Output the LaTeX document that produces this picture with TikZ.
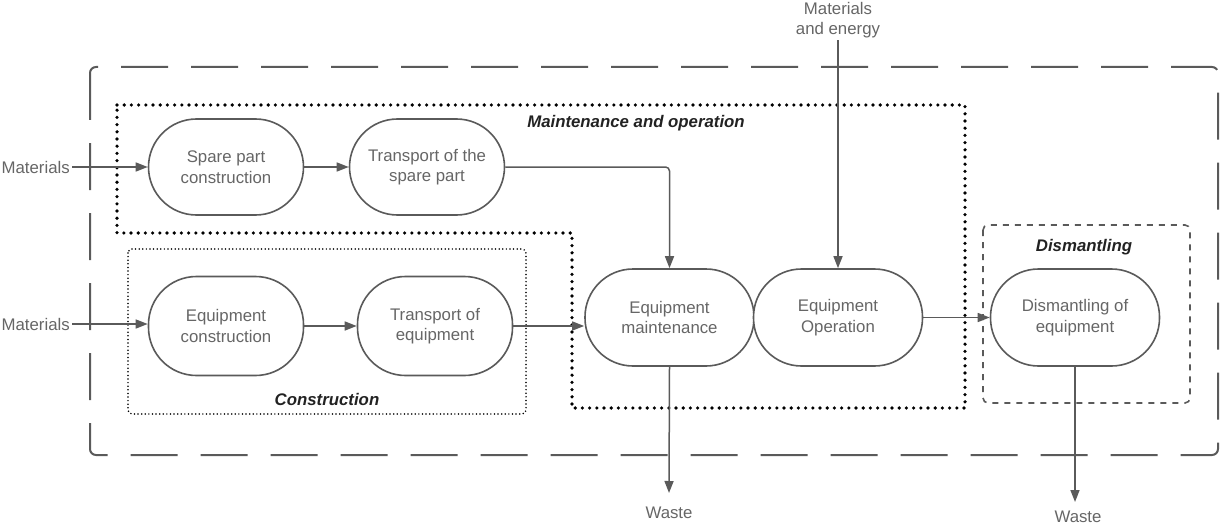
\documentclass[tikz,border=0pt]{standalone}
\usepackage{fontspec}
\setmainfont{Liberation Sans}
\usetikzlibrary{arrows.meta}
\definecolor{ln}{HTML}{5A5A5A}
\definecolor{tx}{HTML}{666666}
\definecolor{tt}{HTML}{222222}
\begin{document}
\begin{tikzpicture}[x=1pt,y=-1pt,
  proc/.style={draw=ln, line width=1.6pt, fill=white, rounded corners=48pt,
    minimum width=#1, minimum height=97pt, text=tx, align=center,
    font=\fontsize{16.8}{20.5}\selectfont, inner sep=0pt},
  proc/.default=155pt,
  lab/.style={text=tx, align=center, font=\fontsize{16.8}{20.5}\selectfont, inner sep=2pt},
  ttl/.style={text=tt, font=\fontsize{16.8}{19}\selectfont\bfseries\itshape, inner sep=0pt},
  arr/.style={draw=ln, line width=1.5pt, -{Triangle[length=12pt,width=9pt]}},
  outerbox/.style={draw=ln, line width=2pt, dash pattern=on 47pt off 23pt, rounded corners=6pt},
  mobox/.style={draw=black, line width=3.6pt, line cap=round, dash pattern=on 0pt off 7.2pt},
  conbox/.style={draw=black, line width=1.7pt, line cap=round, dash pattern=on 0pt off 3.6pt, rounded corners=4pt},
  disbox/.style={draw=ln, line width=1.6pt, dash pattern=on 6pt off 6pt, rounded corners=5pt}]
\useasboundingbox (0,0) rectangle (1220,524);

% group boxes
\draw[outerbox] (90,67) rectangle (1218,455);
\draw[mobox] (117,105) -- (965,105) -- (965,408) -- (572,408) -- (572,233) -- (117,233) -- cycle;
\draw[conbox] (128,249) rectangle (526,414);
\draw[disbox] (983,225) rectangle (1190,403);

% titles
\node[ttl] (tmo) at (636,123) {Maintenance and operation};
\node[ttl] (tcon) at (327,399) {Construction};
\node[ttl] (tdis) at (1084,247) {Dismantling};

% process nodes
\node[proc, minimum height=96pt] (sp) at (226,167) {Spare part\\construction};
\node[proc, minimum height=96pt] (ts) at (427,167) {Transport of the\\spare part};
\node[proc, minimum height=99pt] (ec) at (226,326) {Equipment\\construction};
\node[proc, minimum height=99pt] (te) at (435,326) {Transport of\\equipment};
\node[proc=169pt] (em) at (669.5,317.5) {Equipment\\maintenance};
\node[proc=169pt] (eo) at (838,317.5) {Equipment\\Operation};
\node[proc=169pt] (de) at (1075,317.5) {Dismantling of\\equipment};

% external labels
\node[lab, anchor=east] (m1) at (72,167) {Materials};
\node[lab, anchor=east] (m2) at (72,324) {Materials};
\node[lab] (me) at (838,20) {Materials\\and energy};
\node[lab] (w1) at (669,513) {Waste};
\node[lab] (w2) at (1078,517) {Waste};
\coordinate (w1t) at (669,493);
\coordinate (w2t) at (1075,502);

% connectors
\draw[arr] (m1.east) -- (sp.west);
\draw[arr] (sp.east) -- (ts.west);
\draw[arr, rounded corners=4pt] (ts.east) -- (ts.east -| em.north) -- (em.north);
\draw[arr] (m2.east) -- (m2.east -| ec.west);
\draw[arr] (ec.east) -- (te.west);
\draw[arr] (te.east) -- (te.east -| em.west);
\draw[arr] (me.south) -- (eo.north);
\draw[arr] (eo.east) -- (de.west);
\draw[arr] (em.south) -- (w1t);
\draw[arr] (de.south) -- (w2t);
\end{tikzpicture}
\end{document}
